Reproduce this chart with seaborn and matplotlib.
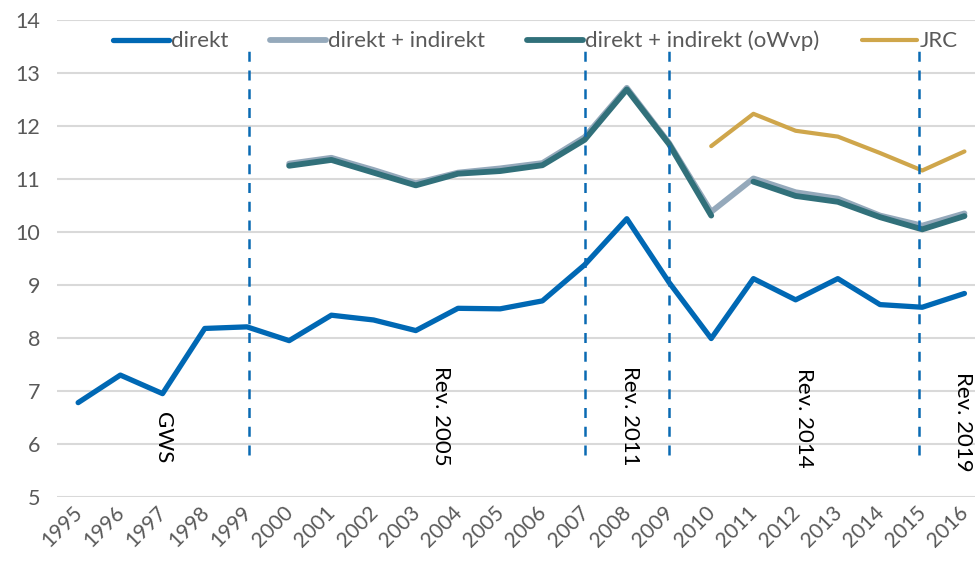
import numpy as np
import pandas as pd
import matplotlib
matplotlib.use("Agg")
import matplotlib.pyplot as plt
import matplotlib.transforms as mtransforms
import seaborn as sns

# Daten
jahre = list(range(1995, 2017))
direkt = [6.78, 7.30, 6.95, 8.18, 8.21, 7.95, 8.43, 8.34, 8.14, 8.56, 8.55, 8.70,
          9.38, 10.25, 9.05, 7.99, 9.12, 8.72, 9.12, 8.63, 8.58, 8.84]
jahre_ind = list(range(2000, 2017))
direkt_indirekt = [11.29, 11.40, 11.17, 10.92, 11.12, 11.20, 11.30, 11.79, 12.72,
                   11.68, 10.38, 11.01, 10.75, 10.63, 10.31, 10.12, 10.35]
jahre_owvp_a = list(range(2000, 2011))
owvp_a = [11.25, 11.36, 11.12, 10.88, 11.10, 11.15, 11.26, 11.74, 12.69, 11.66, 10.31]
jahre_owvp_b = list(range(2011, 2017))
owvp_b = [10.95, 10.68, 10.57, 10.28, 10.05, 10.30]
jahre_jrc = list(range(2010, 2017))
jrc = [11.62, 12.23, 11.91, 11.80, 11.49, 11.16, 11.52]

bruch_jahre = [1999.05, 2007, 2009, 2014.92]
rev_labels = ["GWS", "Rev. 2005", "Rev. 2011", "Rev. 2014", "Rev. 2019"]
rev_x = [1997.0, 2003.6, 2008.07, 2012.2, 2015.97]
rev_y = [6.12, 6.53, 6.53, 6.49, 6.42]

sns.set_style("white")
plt.rcParams['font.family'] = ['Lato', 'DejaVu Sans']

fig = plt.figure(figsize=(9.75, 5.62), dpi=100)
ax = fig.add_axes([0.0585, 0.1157, 0.9415, 0.8487])

c_direkt = "#0068b4"
c_grau = "#95a9bb"
c_teal = "#31707a"
c_jrc = "#cfa64b"

sns.lineplot(x=jahre_ind, y=direkt_indirekt, ax=ax, color=c_grau, lw=4.2,
             label="direkt + indirekt", solid_capstyle="round")
sns.lineplot(x=jahre_owvp_a, y=owvp_a, ax=ax, color=c_teal, lw=4.2,
             label="direkt + indirekt (oWvp)", solid_capstyle="round")
sns.lineplot(x=jahre_owvp_b, y=owvp_b, ax=ax, color=c_teal, lw=4.2,
             solid_capstyle="round")
sns.lineplot(x=jahre, y=direkt, ax=ax, color=c_direkt, lw=3.8,
             label="direkt", solid_capstyle="round")
sns.lineplot(x=jahre_jrc, y=jrc, ax=ax, color=c_jrc, lw=3.0,
             label="JRC", solid_capstyle="round")

for xb in bruch_jahre:
    ax.plot([xb, xb], [5.8, 13.43], color="#0a6ab3", lw=1.8, ls=(0, (4, 3.5)))

for lab, xx, yy in zip(rev_labels, rev_x, rev_y):
    ax.text(xx, yy, lab, rotation=270, ha="center", va="center",
            fontsize=16, color="black")

ax.set_xlim(1994.5, 2016.25)
ax.set_ylim(5, 14)
ax.set_yticks(range(5, 15))
ax.set_xticks(jahre)
ax.set_xticklabels([str(j) for j in jahre], rotation=45, ha="right",
                   rotation_mode="anchor")
ax.tick_params(axis="y", colors="#595959", labelsize=15.5, length=0, pad=12)
ax.tick_params(axis="x", colors="#595959", labelsize=15, length=0, pad=4)
# Jahreszahlen etwas nach links, damit 2016 nicht abgeschnitten wird
verschiebung = mtransforms.ScaledTranslation(-6 / 100, 0, fig.dpi_scale_trans)
for t in ax.get_xticklabels():
    t.set_transform(t.get_transform() + verschiebung)
ax.grid(axis="y", color="#d9d9d9", lw=1.5)
ax.grid(axis="x", visible=False)
for s in ax.spines.values():
    s.set_visible(False)
ax.set_xlabel("")
ax.set_ylabel("")

handles, labels = ax.get_legend_handles_labels()
order = [labels.index(n) for n in ["direkt", "direkt + indirekt",
                                   "direkt + indirekt (oWvp)", "JRC"]]
leg = ax.legend([handles[i] for i in order], [labels[i] for i in order],
                loc="center", bbox_to_anchor=(0.521, 0.956), ncol=4, frameon=False,
                fontsize=16, handlelength=2.5, handletextpad=0.1,
                columnspacing=1.9, labelcolor="#595959")
for h in leg.get_lines():
    h.set_solid_capstyle("round")

fig.savefig("out.png", dpi=100)
